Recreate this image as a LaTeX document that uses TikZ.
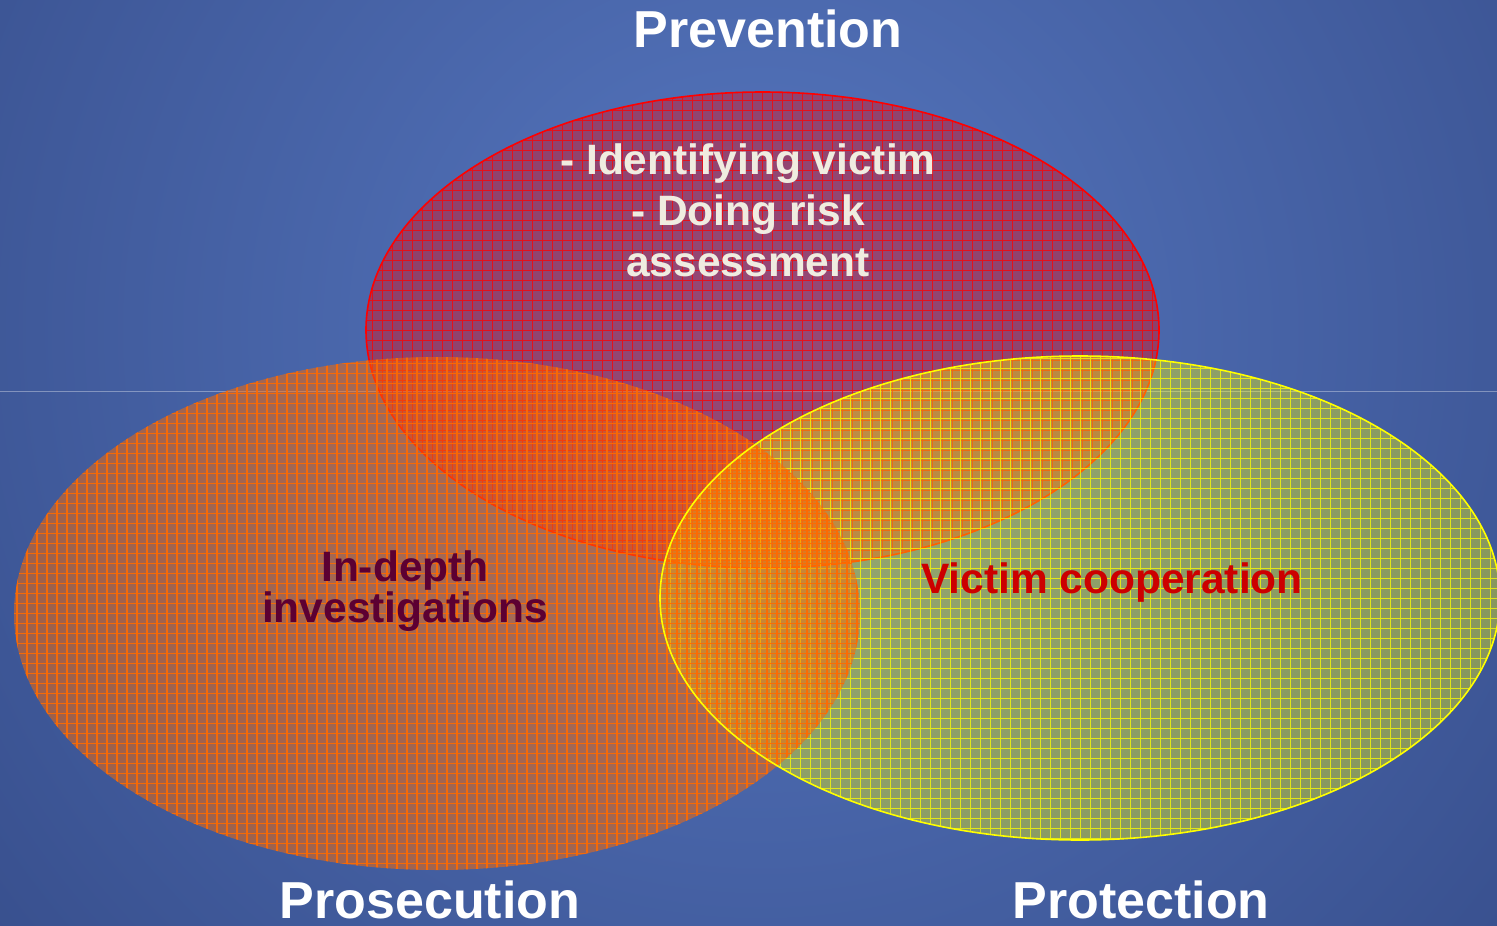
\documentclass[tikz,border=0pt]{standalone}
\usepackage{fontspec}
\setmainfont{Liberation Sans}
\usetikzlibrary{shapes.geometric}
\definecolor{bgin}{HTML}{5677C0}
\definecolor{bgout}{HTML}{2A3D76}
\definecolor{redset}{HTML}{FF0000}
\definecolor{orangeset}{HTML}{FF6A00}
\definecolor{yellowset}{HTML}{FFFF00}
\definecolor{offwhite}{HTML}{F0ECE0}
\definecolor{maroon}{HTML}{5C0032}
\definecolor{victimred}{HTML}{CC0000}

\begin{document}
\begin{tikzpicture}[x=1pt,y=-1pt]
		\tikzstyle{set}=[ellipse,inner sep=0pt,fill opacity=0.38]
		\tikzstyle{grid lines}=[line width=1pt,draw opacity=0.75]
		\tikzstyle{rim}=[line width=1.6pt]
		\tikzstyle{title}=[anchor=base,inner sep=0pt,text=white,font=\fontsize{52}{60}\selectfont\bfseries]
		\tikzstyle{body}=[anchor=base,inner sep=0pt,align=center,font=\fontsize{42.5}{51}\selectfont\bfseries]
		
		\useasboundingbox (0,0) rectangle (1497,926);
		% Draw the background
		\begin{scope}
			\clip (0,0) rectangle (1497,926);
			\shade[inner color=bgin,outer color=bgout] (760,330) circle (1450);
			\draw[white,opacity=0.35,line width=1pt] (0,391) -- (1497,391);
		\end{scope}
		
		% Draw the Prevention set
		\node[set, fill=redset, draw=redset, rim, minimum width=793, minimum height=476,
		path picture={\draw[grid lines,redset,step=10pt] (path picture bounding box.south west) grid (path picture bounding box.north east);}]
		(prevention set) at (762.5,330) {};
		
		% Draw the Protection set
		\node[set, fill=yellowset, minimum width=840, minimum height=484,
		path picture={\draw[grid lines,yellowset,step=10pt] (path picture bounding box.south west) grid (path picture bounding box.north east);}]
		(protection set) at (1080,598) {};
		
		% Draw the Prosecution set
		\node[set, fill=orangeset, fill opacity=0.5, minimum width=846, minimum height=513,
		path picture={\draw[grid lines,orangeset,line width=1.3pt,draw opacity=0.9,step=10pt] (path picture bounding box.south west) grid (path picture bounding box.north east);}]
		(prosecution set) at (437,613.5) {};
		
		% Outline the Protection set on top
		\draw[rim,yellowset] (protection set.center) ellipse (420 and 242);
		
		% Annotate the sets
		\node[title] (prevention) at (768,47) {Prevention};
		\node[title] (prosecution) at (430,918) {Prosecution};
		\node[title] (protection) at (1141,918) {Protection};
		
		\node[body,text=offwhite] (prevention text) at (748,276) {- Identifying victim\\- Doing risk\\assessment};
		\node[body,text=maroon,font=\fontsize{42.5}{39}\selectfont\bfseries] (prosecution text) at (405,622) {In-depth\\investigations};
		\node[body,text=victimred] (protection text) at (1112,593) {Victim cooperation};
	\end{tikzpicture}
\end{document}
